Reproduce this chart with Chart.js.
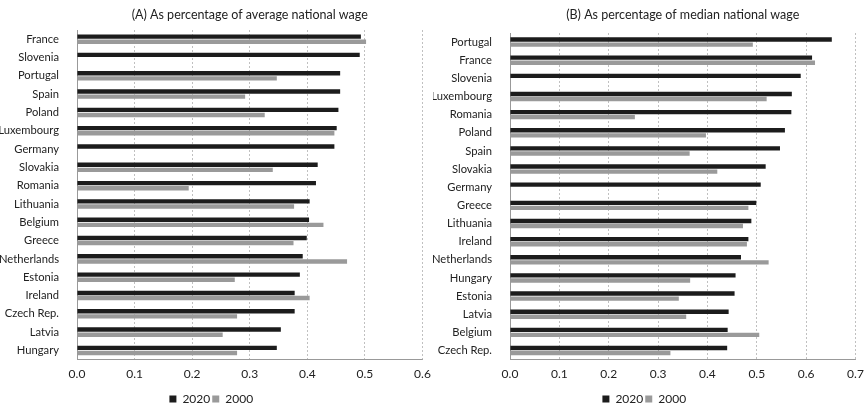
<!DOCTYPE html>
<html>
<head>
<meta charset="utf-8">
<script src="https://cdn.jsdelivr.net/npm/chart.js@4/dist/chart.umd.min.js"></script>
<style>
  body { margin: 0; background: #fff; }
  .wrap { position: absolute; top: 0; width: 433px; height: 406px; }
</style>
</head>
<body>
<div class="wrap" style="left:0"><canvas id="avgWage"></canvas></div>
<div class="wrap" style="left:433px"><canvas id="medWage"></canvas></div>
<script>
// (A) as percentage of average national wage
var avgCountries = ["France", "Slovenia", "Portugal", "Spain", "Poland", "Luxembourg", "Germany", "Slovakia", "Romania",
  "Lithuania", "Belgium", "Greece", "Netherlands", "Estonia", "Ireland", "Czech Rep.", "Latvia", "Hungary"];
var avg2020 = [0.493, 0.491, 0.457, 0.457, 0.454, 0.451, 0.447, 0.418, 0.415, 0.404, 0.403, 0.399, 0.392, 0.387, 0.378, 0.378, 0.354, 0.347];
var avg2000 = [0.502, null, 0.347, 0.292, 0.326, 0.447, null, 0.340, 0.194, 0.377, 0.428, 0.376, 0.469, 0.274, 0.404, 0.278, 0.253, 0.278];
var avgTicks = [0, 0.6];

// (B) as percentage of median national wage
var medCountries = ["Portugal", "France", "Slovenia", "Luxembourg", "Romania", "Poland", "Spain", "Slovakia", "Germany",
  "Greece", "Lithuania", "Ireland", "Netherlands", "Hungary", "Estonia", "Latvia", "Belgium", "Czech Rep."];
var med2020 = [0.652, 0.612, 0.589, 0.571, 0.570, 0.557, 0.547, 0.518, 0.508, 0.499, 0.489, 0.483, 0.468, 0.457, 0.455, 0.443, 0.441, 0.440];
var med2000 = [0.492, 0.618, null, 0.520, 0.253, 0.397, 0.364, 0.420, null, 0.483, 0.472, 0.480, 0.524, 0.365, 0.342, 0.357, 0.505, 0.325];
var medTicks = [0, 0.7];

Chart.defaults.font.family = "Lato, 'Liberation Sans', sans-serif";
Chart.defaults.color = '#222';

function makeChart(id, title, labels, s2020, s2000, range, titleGap) {
  var ctx = document.getElementById(id).getContext('2d');
  return new Chart(ctx, {
    type: 'bar',
    data: {
      labels: labels,
      datasets: [
        { label: '2020', data: s2020, backgroundColor: '#1c1c1c', categoryPercentage: 0.56, barPercentage: 0.86 },
        { label: '2000', data: s2000, backgroundColor: '#9a9a9a', categoryPercentage: 0.56, barPercentage: 0.86 }
      ]
    },
    options: {
      indexAxis: 'y',
      responsive: true,
      maintainAspectRatio: false,
      animation: false,
      layout: { padding: { left: 0, right: 10.5, top: 6, bottom: -9 } },
      plugins: {
        title: {
          display: true, text: title, color: '#222', fullSize: false,
          font: { size: 12.5, weight: 'normal' }, padding: { top: 1, bottom: titleGap }
        },
        legend: {
          position: 'bottom',
          labels: { boxWidth: 7, boxHeight: 7, padding: 2, font: { size: 12 }, color: '#222' }
        },
        tooltip: { enabled: false }
      },
      scales: {
        x: {
          min: range[0], max: range[1],
          ticks: { stepSize: 0.1, font: { size: 12 }, padding: 7, callback: function (v) { return v.toFixed(1); } },
          grid: { color: '#b0b0b0', drawTicks: false, lineWidth: 0.8 },
          border: { color: '#999', dash: [2, 2] },
          afterFit: function (scale) {
            scale.height += 3;
            scale.paddingLeft = 0;
            scale.paddingRight = 0;
          }
        },
        y: {
          ticks: { font: { size: 11.2 }, padding: 10, autoSkip: false },
          grid: { display: false },
          border: { color: '#999' },
          afterFit: function (scale) { scale.width = 77; }
        }
      }
    }
  });
}

makeChart('avgWage', '(A) As percentage of average national wage', avgCountries, avg2020, avg2000, avgTicks, 8);
makeChart('medWage', '(B) As percentage of median national wage', medCountries, med2020, med2000, medTicks, 11);
</script>
</body>
</html>
